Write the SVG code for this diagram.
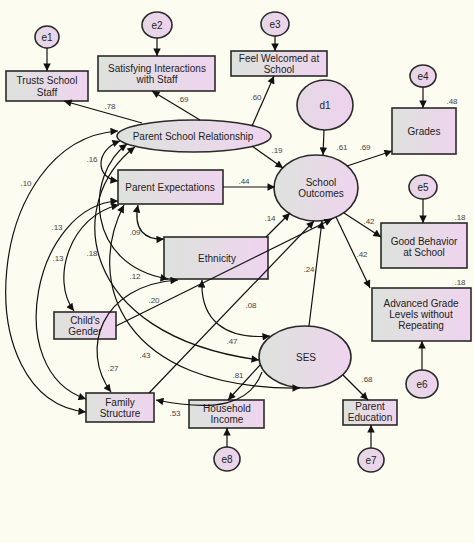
<svg xmlns="http://www.w3.org/2000/svg" width="474" height="543" viewBox="0 0 474 543">
<defs>
<linearGradient id="g" x1="0" y1="0" x2="1" y2="0">
<stop offset="0" stop-color="#dde2dc"/>
<stop offset="1" stop-color="#efd4ef"/>
</linearGradient>
<linearGradient id="ge" x1="0" y1="0" x2="1" y2="0">
<stop offset="0" stop-color="#e4d9e4"/>
<stop offset="1" stop-color="#eed2ee"/>
</linearGradient>
<marker id="ah" viewBox="0 0 10 10" refX="10" refY="5" markerWidth="11" markerHeight="7.5" markerUnits="userSpaceOnUse" orient="auto-start-reverse">
<path d="M0,0 L10,5 L0,10 z" fill="#111"/>
</marker>
<style>
.n{fill:url(#g);stroke:#2a2a2a;stroke-width:1.6}
.e{fill:url(#ge);stroke:#2a2a2a;stroke-width:1.6}
.t{font-family:"Liberation Sans",Arial,sans-serif;font-size:10px;fill:#222;text-anchor:middle}
.c{font-family:"Liberation Sans",Arial,sans-serif;font-size:8px;fill:#444;text-anchor:middle}
.a{fill:none;stroke:#111;stroke-width:1.2;marker-end:url(#ah)}
.d{fill:none;stroke:#111;stroke-width:1.2;marker-start:url(#ah);marker-end:url(#ah)}
</style>
</defs>
<rect width="474" height="543" fill="#fcfcf0"/>

<g id="e1"><ellipse class="e" cx="47" cy="37" rx="12" ry="11"/><text class="t" x="47" y="41">e1</text></g>
<g id="trusts"><rect class="n" x="6" y="71" width="82" height="30"/><text class="t" x="47" y="84">Trusts School</text><text class="t" x="47" y="96">Staff</text></g>
<g id="e2"><ellipse class="e" cx="157" cy="25" rx="15" ry="13"/><text class="t" x="157" y="29">e2</text></g>
<g id="satisfying"><rect class="n" x="98" y="56" width="117" height="35"/><text class="t" x="157" y="72">Satisfying Interactions</text><text class="t" x="157" y="83">with Staff</text></g>
<g id="e3"><ellipse class="e" cx="275" cy="24" rx="14" ry="12"/><text class="t" x="275" y="28">e3</text></g>
<g id="welcomed"><rect class="n" x="231" y="51" width="96" height="25"/><text class="t" x="279" y="62">Feel Welcomed at</text><text class="t" x="279" y="73">School</text></g>
<g id="d1"><ellipse class="e" cx="325" cy="105" rx="28" ry="25"/><text class="t" x="325" y="109">d1</text></g>
<g id="e4"><ellipse class="e" cx="423" cy="76" rx="13" ry="11"/><text class="t" x="423" y="80">e4</text></g>
<g id="grades"><rect class="n" x="392" y="108" width="64" height="46"/><text class="t" x="424" y="135">Grades</text></g>
<g id="psr"><ellipse class="n" cx="194" cy="136" rx="77" ry="16"/><text class="t" x="193" y="140">Parent School Relationship</text></g>
<g id="pe"><rect class="n" x="118" y="170" width="105" height="34"/><text class="t" x="170" y="191">Parent Expectations</text></g>
<g id="so"><ellipse class="n" cx="316" cy="188" rx="42" ry="33"/><text class="t" x="321" y="186">School</text><text class="t" x="321" y="197">Outcomes</text></g>
<g id="e5"><ellipse class="e" cx="423" cy="187" rx="14" ry="12"/><text class="t" x="423" y="191">e5</text></g>
<g id="behavior"><rect class="n" x="381" y="223" width="86" height="45"/><text class="t" x="424" y="245">Good Behavior</text><text class="t" x="424" y="256">at School</text></g>
<g id="ethnicity"><rect class="n" x="164" y="237" width="104" height="42"/><text class="t" x="217" y="262">Ethnicity</text></g>
<g id="advanced"><rect class="n" x="372" y="288" width="99" height="53"/><text class="t" x="421" y="307">Advanced Grade</text><text class="t" x="421" y="318">Levels without</text><text class="t" x="421" y="329">Repeating</text></g>
<g id="e6"><ellipse class="e" cx="422" cy="384" rx="16" ry="14"/><text class="t" x="422" y="388">e6</text></g>
<g id="ses"><ellipse class="n" cx="305" cy="357" rx="46" ry="31"/><text class="t" x="306" y="361">SES</text></g>
<g id="gender"><rect class="n" x="54" y="312" width="62" height="27"/><text class="t" x="85" y="324">Child's</text><text class="t" x="85" y="335">Gender</text></g>
<g id="family"><rect class="n" x="86" y="393" width="68" height="29"/><text class="t" x="120" y="406">Family</text><text class="t" x="120" y="417">Structure</text></g>
<g id="household"><rect class="n" x="189" y="400" width="75" height="28"/><text class="t" x="227" y="412">Household</text><text class="t" x="227" y="423">Income</text></g>
<g id="parentedu"><rect class="n" x="343" y="400" width="54" height="25"/><text class="t" x="370" y="410">Parent</text><text class="t" x="370" y="421">Education</text></g>
<g id="e7"><ellipse class="e" cx="371" cy="460" rx="13" ry="12"/><text class="t" x="371" y="464">e7</text></g>
<g id="e8"><ellipse class="e" cx="227" cy="459" rx="13" ry="12"/><text class="t" x="227" y="463">e8</text></g>

<g id="connectors">
<path class="a" d="M47,48 L47,71"/>
<path class="a" d="M157,38 L157,56"/>
<path class="a" d="M275,36 L275,51"/>
<path class="a" d="M423,87 L423,108"/>
<path class="a" d="M324,130 L323,155"/>
<path class="a" d="M423,199 L423,223"/>
<path class="a" d="M422,370 L422,341"/>
<path class="a" d="M371,448 L371,425"/>
<path class="a" d="M227,447 L227,428"/>
<path class="a" d="M142,123 L64,101"/>
<path class="a" d="M200,120 L152,91"/>
<path class="a" d="M252,126 L274,76"/>
<path class="a" d="M252,146 L283,168"/>
<path class="a" d="M223,187 L275,187"/>
<path class="a" d="M266,237 L290,213"/>
<path class="a" d="M116,326 L332,219"/>
<path class="a" d="M149,393 L314,221"/>
<path class="a" d="M309,326 L322,221"/>
<path class="a" d="M347,166 L392,151"/>
<path class="a" d="M344,213 L381,237"/>
<path class="a" d="M336,217 L370,288"/>
<path class="a" d="M343,375 L368,400"/>
<path class="a" d="M260,365 L228,400"/>
<path class="a" d="M262,372 C250,405 215,412 156,400"/>
<path class="d" d="M118,131 C-15,140 -35,400 86,412"/>
<path class="d" d="M120,141 C95,150 95,178 118,181"/>
<path class="d" d="M127,144 C85,175 85,265 168,279"/>
<path class="d" d="M135,147 C65,200 75,335 259,360"/>
<path class="d" d="M118,201 C35,205 0,370 86,399"/>
<path class="d" d="M119,205 C70,215 50,280 74,311"/>
<path class="d" d="M124,205 C85,280 120,390 300,388"/>
<path class="d" d="M138,205 C133,230 145,240 164,239"/>
<path class="d" d="M178,280 C100,285 80,350 111,392"/>
<path class="d" d="M202,280 C200,320 225,340 270,336"/>
</g>

<g id="labels">
<text class="c" x="110" y="109">.78</text>
<text class="c" x="183" y="102">.69</text>
<text class="c" x="256" y="100">.60</text>
<text class="c" x="277" y="153">.19</text>
<text class="c" x="342" y="150">.61</text>
<text class="c" x="365" y="150">.69</text>
<text class="c" x="452" y="104">.48</text>
<text class="c" x="92" y="162">.16</text>
<text class="c" x="26" y="186">.10</text>
<text class="c" x="244" y="184">.44</text>
<text class="c" x="57" y="230">.13</text>
<text class="c" x="58" y="261">.13</text>
<text class="c" x="92" y="256">.18</text>
<text class="c" x="135" y="235">.09</text>
<text class="c" x="135" y="279">.12</text>
<text class="c" x="270" y="221">.14</text>
<text class="c" x="369" y="224">.42</text>
<text class="c" x="362" y="257">.42</text>
<text class="c" x="460" y="220">.18</text>
<text class="c" x="460" y="285">.18</text>
<text class="c" x="309" y="272">.24</text>
<text class="c" x="154" y="303">.20</text>
<text class="c" x="251" y="308">.08</text>
<text class="c" x="232" y="344">.47</text>
<text class="c" x="145" y="358">.43</text>
<text class="c" x="113" y="371">.27</text>
<text class="c" x="238" y="378">.81</text>
<text class="c" x="175" y="416">.53</text>
<text class="c" x="367" y="382">.68</text>
</g>
</svg>
